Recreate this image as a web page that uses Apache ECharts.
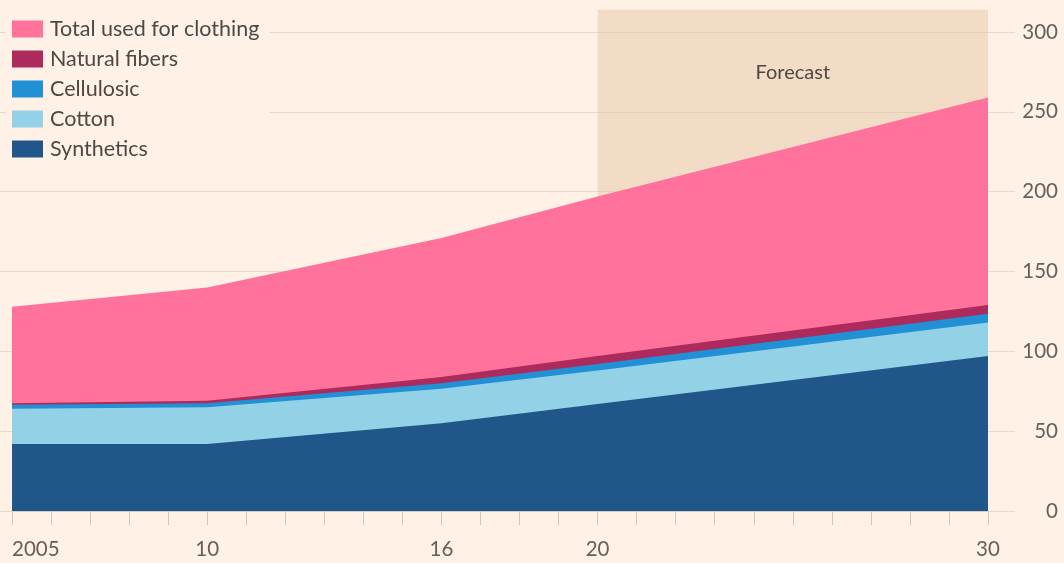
<!DOCTYPE html>
<html>
<head>
<meta charset="utf-8">
<script src="https://cdn.jsdelivr.net/npm/echarts@6/dist/echarts.min.js"></script>
<style>
  html, body { margin: 0; padding: 0; background: #fff1e5; }
  #chart { width: 1064px; height: 563px; }
</style>
</head>
<body>
<div id="chart"></div>
<script>
const years = [2005, 2010, 2016, 2020, 2030];
const totalClothing = [128, 140, 171, 197, 259];
const synthetics = [42, 42, 55, 67, 97];
const cotton = [22, 23, 21.5, 21, 21];
const cellulosic = [2.5, 2.5, 3.5, 4, 5.5];
const naturalFibers = [1, 1.5, 4, 5, 5.5];
const yTicks = [0, 50, 100, 150, 200, 250, 300];
const xLabels = { 2005: "2005", 2010: "10", 2016: "16", 2020: "20", 2030: "30" };
const forecastFrom = 2020;
const forecastTo = 2030;
const forecastTop = 314;

const textColor = "#66605c";
const font = "Lato";

// layers are drawn as cumulative areas from zero, biggest first
const sumOf = (...arrs) => years.map((_, i) => arrs.reduce((s, a) => s + a[i], 0));
const pairs = (vals) => years.map((y, i) => [y, vals[i]]);

function areaSeries(name, vals, color) {
  return {
    name,
    type: "line",
    xAxisIndex: 1,
    yAxisIndex: 1,
    data: pairs(vals),
    showSymbol: false,
    lineStyle: { width: 0 },
    areaStyle: { color, opacity: 1 },
    itemStyle: { color },
    emphasis: { disabled: true }
  };
}

const chart = echarts.init(document.getElementById("chart"));

// keep the same px per unit as the 0-300 grid, just a taller top
const gridTop = 32;
const gridBottom = 52;
const plotH = 563 - gridTop - gridBottom;
const dataTop = gridTop - plotH * (forecastTop - 300) / 300;

const totalSeries = areaSeries("Total used for clothing", totalClothing, "#ff729c");
totalSeries.markArea = {
  silent: true,
  itemStyle: { color: "rgba(222, 190, 150, 0.4)" },
  label: {
    show: true,
    position: "insideTop",
    distance: 53,
    color: "#4d4845",
    fontFamily: font,
    fontSize: 20
  },
  data: [[
    { name: "Forecast", xAxis: forecastFrom, yAxis: 0 },
    { xAxis: forecastTo, yAxis: forecastTop }
  ]]
};

chart.setOption({
  backgroundColor: "#fff1e5",
  animation: false,
  textStyle: { fontFamily: font },
  grid: [
    { left: 0, right: 49, top: gridTop, bottom: gridBottom },
    { left: 12, right: 76, top: dataTop, bottom: gridBottom }
  ],
  legend: {
    left: 6,
    top: 12,
    orient: "vertical",
    itemWidth: 31,
    itemHeight: 17,
    itemGap: 8,
    icon: "rect",
    padding: [6, 10, 6, 6],
    backgroundColor: "#fff1e5",
    z: 5,
    selectedMode: false,
    textStyle: { color: "#4d4845", fontSize: 21.5, fontFamily: font, padding: [0, 0, 0, 2] },
    data: ["Total used for clothing", "Natural fibers", "Cellulosic", "Cotton", "Synthetics"]
  },
  xAxis: [
    { gridIndex: 0, type: "value", show: false, min: 0, max: 1 },
    {
      gridIndex: 1,
      type: "value",
      min: 2005,
      max: 2030,
      interval: 1,
      axisLine: { show: true, lineStyle: { color: "#d9cdc1", width: 1 } },
      axisTick: { show: true, length: 14, lineStyle: { color: "#d3c7bb" } },
      splitLine: { show: false },
      axisLabel: {
        color: textColor,
        fontSize: 20.5,
        fontFamily: font,
        margin: 28,
        alignMinLabel: "left",
        formatter: (v) => xLabels[v] || ""
      }
    }
  ],
  yAxis: [
    {
      gridIndex: 0,
      type: "value",
      position: "right",
      min: yTicks[0],
      max: yTicks[yTicks.length - 1],
      interval: 50,
      axisLine: { show: false },
      axisTick: { show: false },
      splitLine: { show: true, lineStyle: { color: "#e6d9cc", width: 1 } },
      axisLabel: {
        color: textColor,
        fontSize: 20.5,
        fontFamily: font,
        align: "right",
        margin: 43
      }
    },
    { gridIndex: 1, type: "value", min: 0, max: forecastTop, show: false }
  ],
  series: [
    totalSeries,
    areaSeries("Natural fibers", sumOf(synthetics, cotton, cellulosic, naturalFibers), "#ad2a5c"),
    areaSeries("Cellulosic", sumOf(synthetics, cotton, cellulosic), "#2190d5"),
    areaSeries("Cotton", sumOf(synthetics, cotton), "#93d1e6"),
    areaSeries("Synthetics", synthetics, "#20568a")
  ]
});
</script>
</body>
</html>
